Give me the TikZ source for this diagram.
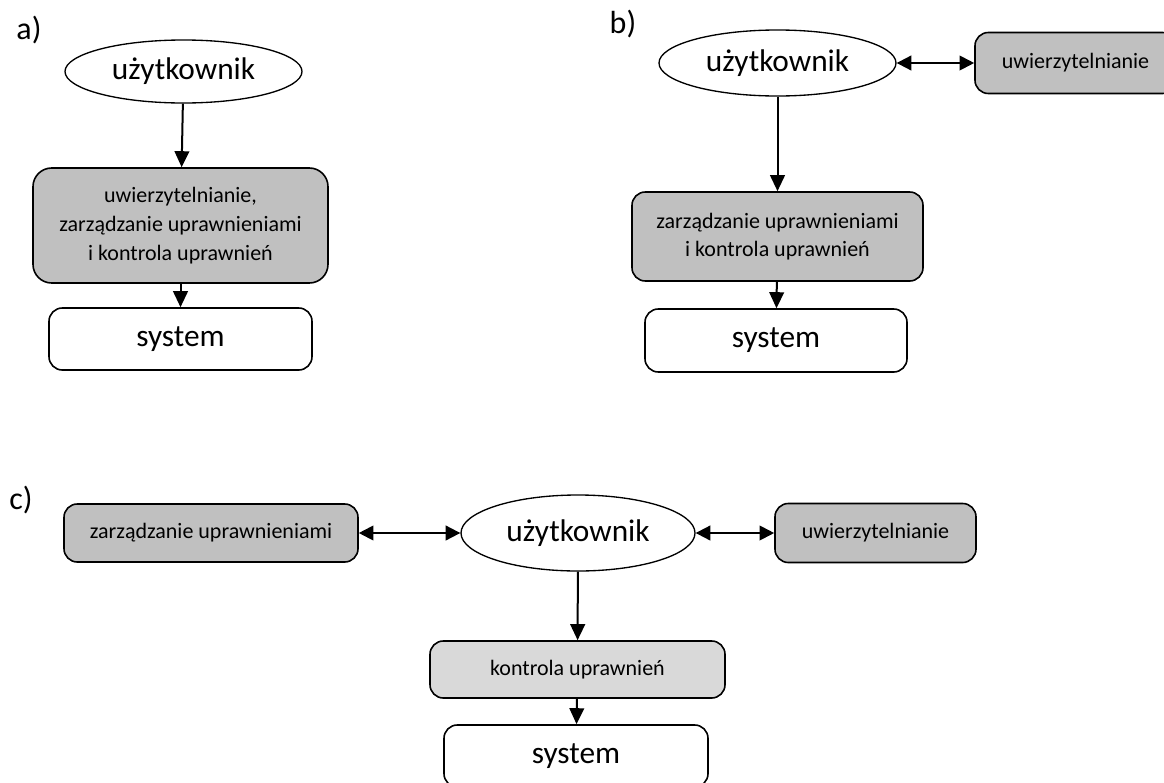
\documentclass[tikz,border=0pt]{standalone}
\usepackage{fontspec}
\setmainfont{Carlito}
\usetikzlibrary{shapes.geometric,arrows.meta}
\definecolor{boxgray}{HTML}{C0C0C0}
\definecolor{ctrlgray}{HTML}{D9D9D9}
\begin{document}
\begin{tikzpicture}[x=0.75pt,y=-0.75pt,
  user/.style={ellipse, draw, line width=1pt, inner sep=0pt, font=\fontsize{23.5}{28}\selectfont},
  box/.style={draw, rounded corners=10pt, fill=boxgray, line width=1.2pt, inner sep=0pt, align=center, font=\fontsize{16.5}{21.5}\selectfont},
  sys/.style={draw, rounded corners=10pt, line width=1.2pt, inner sep=0pt, font=\fontsize{23.5}{28}\selectfont},
  lbl/.style={font=\fontsize{24}{28}\selectfont},
  arr/.style={line width=1.5pt, -{Triangle[length=12pt,width=11pt]}},
  dbl/.style={line width=1.5pt, {Triangle[length=11pt,width=11pt]}-{Triangle[length=11pt,width=11pt]}}]
\useasboundingbox (0,0) rectangle (1164,782);
\node[lbl] (la) at (29,30){a)};
\node[user, minimum width=177.75pt, minimum height=47.25pt] (ua) at (183.5,71.5){użytkownik};
\node[box, rounded corners=14pt, minimum width=221.25pt, minimum height=86.25pt] (ka) at (180.5,225.5){uwierzytelnianie,\\zarządzanie uprawnieniami\\i kontrola uprawnień};
\node[sys, minimum width=197.25pt, minimum height=46.5pt] (sa) at (180.5,339){system};
\draw[arr](ua) -- (ka);
\draw[arr](ka) -- (sa);
\node[lbl] (lb) at (623,24){b)};
\node[user, minimum width=177.75pt, minimum height=49.5pt] (ub) at (777.5,63){użytkownik};
\node[box, minimum width=150.75pt, minimum height=45.75pt] (wb) at (1075.5,63){uwierzytelnianie};
\draw[dbl](ub) -- (wb);
\node[box, minimum width=218.25pt, minimum height=66.75pt] (kb) at (777.5,236.5){zarządzanie uprawnieniami\\i kontrola uprawnień};
\node[sys, minimum width=196.5pt, minimum height=47.25pt] (sb) at (776,340.5){system};
\draw[arr](ub) -- (kb);
\draw[arr](kb) -- (sb);
\node[lbl] (lc) at (21,500){c)};
\node[box, minimum width=220.5pt, minimum height=43.5pt] (zc) at (211,533){zarządzanie uprawnieniami};
\node[user, minimum width=175.5pt, minimum height=57pt] (uc) at (578,533){użytkownik};
\node[box, minimum width=150.75pt, minimum height=44.25pt] (wc) at (875.5,533){uwierzytelnianie};
\draw[dbl](zc) -- (uc);
\draw[dbl](uc) -- (wc);
\node[box, fill=ctrlgray, minimum width=221.25pt, minimum height=42.75pt] (kc) at (577.5,669.5){kontrola uprawnień};
\node[sys, minimum width=198pt, minimum height=46.5pt] (sc) at (576,756){system};
\draw[arr](uc) -- (kc);
\draw[arr](kc) -- (sc);
\end{tikzpicture}
\end{document}
